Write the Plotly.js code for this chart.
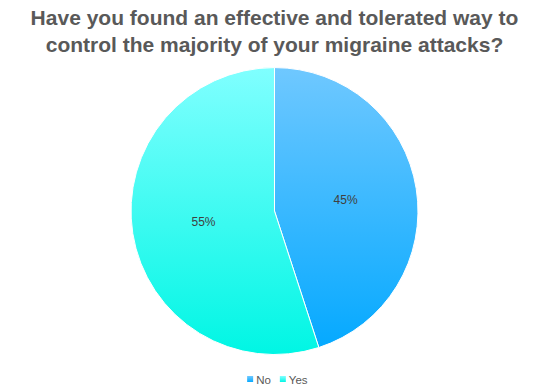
<!DOCTYPE html>
<html>
<head>
<meta charset="utf-8">
<script src="https://cdn.plot.ly/plotly-3.0.1.min.js"></script>
<style>html,body{margin:0;padding:0;background:#fff;}#chart{width:549px;height:390px;}</style>
</head>
<body>
<div id="chart"></div>
<script>
var categories = ['No', 'Yes'];
var values = [45, 55];
var titleText = 'Have you found an effective and tolerated way to<br>control the majority of your migraine attacks?';

var gradients = {
  No: ['#6fc8ff', '#05a9ff'],
  Yes: ['#80ffff', '#00f6e4']
};

var trace = {
  type: 'pie',
  labels: categories,
  values: values,
  sort: false,
  direction: 'clockwise',
  rotation: 0,
  textinfo: 'percent',
  texttemplate: '%{percent:.0%}',
  textposition: 'inside',
  insidetextorientation: 'horizontal',
  textfont: {family: 'Liberation Sans, Arial, sans-serif', size: 12, color: '#404040'},
  marker: {colors: ['#3ab8ff', '#40fff2'], line: {color: '#ffffff', width: 1}},
  domain: {x: [0, 1], y: [0.0719, 0.8231]},
  hoverinfo: 'none'
};

var layout = {
  width: 549,
  height: 390,
  paper_bgcolor: '#ffffff',
  margin: {l: 0, r: 0, t: 0, b: 0, pad: 0},
  title: {
    text: titleText,
    font: {family: 'Liberation Sans, Arial, sans-serif', size: 21, color: '#595959', weight: 'bold'},
    x: 0.5, xanchor: 'center',
    y: 0.936, yref: 'container', yanchor: 'middle'
  },
  showlegend: true,
  legend: {
    orientation: 'h',
    x: 0.5, xanchor: 'center',
    y: 0.018, yanchor: 'middle',
    font: {family: 'Liberation Sans, Arial, sans-serif', size: 11.5, color: '#595959'},
    itemwidth: 30,
    traceorder: 'normal'
  }
};

function getXY(it) {
  var tr = it.getAttribute('transform') || '';
  var m = /translate\(\s*([-\d.]+)[ ,]+([-\d.]+)\s*\)/.exec(tr);
  return m ? [parseFloat(m[1]), parseFloat(m[2])] : [0, 0];
}

Plotly.newPlot('chart', [trace], layout, {staticPlot: true, displayModeBar: false}).then(function (gd) {
  var svg = gd.querySelector('svg.main-svg');
  var ns = 'http://www.w3.org/2000/svg';
  var defs = svg.querySelector('defs') || svg.insertBefore(document.createElementNS(ns, 'defs'), svg.firstChild);
  categories.forEach(function (c) {
    var g = document.createElementNS(ns, 'linearGradient');
    g.setAttribute('id', 'grad' + c);
    g.setAttribute('x1', '0'); g.setAttribute('y1', '0');
    g.setAttribute('x2', '0'); g.setAttribute('y2', '1');
    var s1 = document.createElementNS(ns, 'stop');
    s1.setAttribute('offset', '0'); s1.setAttribute('stop-color', gradients[c][0]);
    var s2 = document.createElementNS(ns, 'stop');
    s2.setAttribute('offset', '1'); s2.setAttribute('stop-color', gradients[c][1]);
    g.appendChild(s1); g.appendChild(s2);
    defs.appendChild(g);
  });
  var slices = gd.querySelectorAll('g.slice path.surface');
  slices.forEach(function (p, i) {
    p.style.fill = 'url(#grad' + categories[i] + ')';
  });
  // compact legend: smaller swatches and tighter spacing
  var items = Array.prototype.slice.call(gd.querySelectorAll('.legend g.traces'));
  items.forEach(function (it, i) {
    var pts = it.querySelector('.legendpoints');
    var path = pts.querySelector('path');
    path.style.fill = 'url(#grad' + categories[i] + ')';
    path.style.stroke = 'none';
    var bb = path.getBBox();
    var cx = bb.x + bb.width / 2, cy = bb.y + bb.height / 2;
    path.setAttribute('transform', (path.getAttribute('transform') || '') + ' translate(' + cx + ',' + cy + ') scale(0.5) translate(' + (-cx) + ',' + (-cy) + ')');
    var txt = it.querySelector('text.legendtext');
    var tx = parseFloat(txt.getAttribute('x'));
    var pb = path.getBoundingClientRect();
    var tb = txt.getBoundingClientRect();
    var shift = (pb.right + 3) - tb.left;
    txt.setAttribute('x', tx + shift);
  });
  // re-space items using visible parts only
  var prevRight = null;
  items.forEach(function (it) {
    var path = it.querySelector('.legendpoints path');
    var txt = it.querySelector('text.legendtext');
    var xy = getXY(it);
    if (prevRight !== null) {
      var dx = (prevRight + 9) - path.getBoundingClientRect().left;
      it.setAttribute('transform', 'translate(' + (xy[0] + dx) + ',' + xy[1] + ')');
    }
    prevRight = txt.getBoundingClientRect().right;
  });
  // recenter legend on the visible content and nudge down
  var firstL = items[0].querySelector('.legendpoints path').getBoundingClientRect().left;
  var lastR = items[items.length - 1].querySelector('text.legendtext').getBoundingClientRect().right;
  var d = 549 / 2 + 3 - (firstL + lastR) / 2;
  items.forEach(function (it) {
    var xy = getXY(it);
    it.setAttribute('transform', 'translate(' + (xy[0] + d) + ',' + (xy[1] + 4) + ')');
  });
});
</script>
</body>
</html>
